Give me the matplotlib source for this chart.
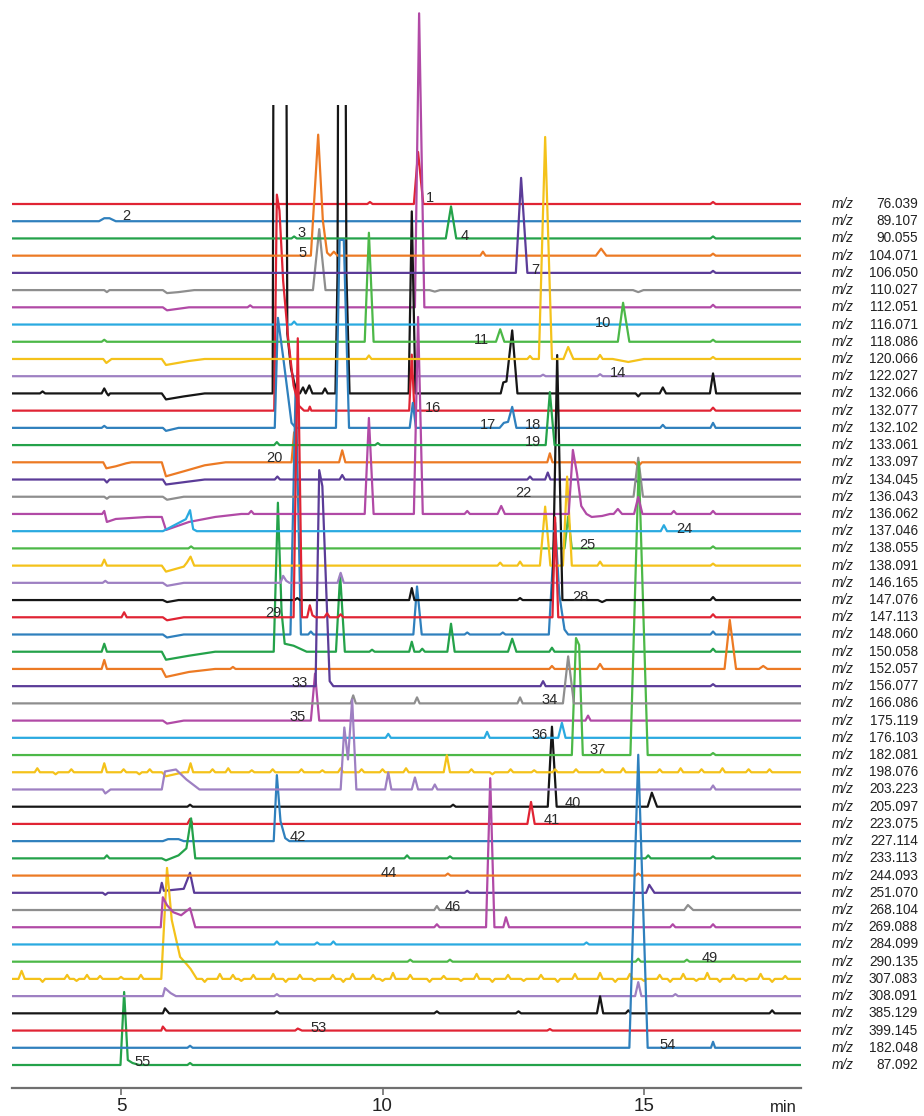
import matplotlib
matplotlib.use("Agg")
import matplotlib.pyplot as plt
from matplotlib.patches import Rectangle

plt.rcParams['font.family'] = ['Liberation Sans', 'DejaVu Sans']

# ---------------- data ----------------
mz_labels = ["76.039", "89.107", "90.055", "104.071", "106.050", "110.027", "112.051",
             "116.071", "118.086", "120.066", "122.027", "132.066", "132.077", "132.102",
             "133.061", "133.097", "134.045", "136.043", "136.062", "137.046", "138.055",
             "138.091", "146.165", "147.076", "147.113", "148.060", "150.058", "152.057",
             "156.077", "166.086", "175.119", "176.103", "182.081", "198.076", "203.223",
             "205.097", "223.075", "227.114", "233.113", "244.093", "251.070", "268.104",
             "269.088", "284.099", "290.135", "307.083", "308.091", "385.129", "399.145",
             "182.048", "87.092"]

# peaks per trace: (rt, height) | (rt, height, halfwidth) | (rt, height, wl, wr) | [(t, h), ...]
tr00 = [(9.76, 2), (10.68, 52, 0.08, 0.1), (16.32, 2)]
tr01 = [[(4.58, 0), (4.68, 3), (4.78, 3), (4.90, 0)]]
tr02 = [(8.31, 2), (11.31, 32, 0.1, 0.1), (16.32, 2)]
tr03 = [[(8.63, 0), (8.77, 121), (8.86, 35), (8.94, 3), (9.00, 0), (9.07, 4), (9.14, 0)],
        (11.92, 4), (14.18, 7, 0.1), (16.32, 2)]
tr04 = [(12.65, 95, 0.1, 0.12), (16.32, 2)]
tr05 = [(4.73, -2), [(5.80, 0), (5.88, -3), (6.1, -2), (6.4, 0)], (8.79, 61, 0.12, 0.12),
        (11.0, -1.5, 0.1), (14.89, -2, 0.1)]
tr06 = [[(5.80, 0), (5.88, -3), (6.3, 0)], (7.47, 2), (10.70, 294, 0.08, 0.1), (16.32, 2.5)]
tr07 = [(8.31, 3), (14.18, 1.5)]
tr08 = [(4.68, 2), (9.74, 109, 0.08, 0.09), (12.25, 12.5, 0.08), (14.60, 39, 0.1, 0.12), (16.32, 2)]
tr09 = [(4.72, -4, 0.06, 0.1), [(5.78, 0), (5.86, -6), (6.3, -2), (6.6, 0)], (9.74, 3.5),
        (12.82, 3), (13.11, 222, 0.12, 0.13), (13.55, 12, 0.09, 0.1), (14.16, 4),
        [(14.40, 0), (14.70, -3), (15.0, 0)], (16.32, 2)]
tr10 = [(13.07, 1.5), (14.16, 2)]
tr11 = [(3.5, 2), (4.68, 5), (4.76, -2, 0.03), [(5.78, 0), (5.86, -6), (6.2, -3), (6.6, 0)],
        [(7.90, 0), (7.93, 700), (8.14, 700), (8.18, 60), (8.25, 25), (8.36, 0)],
        [(8.42, 0), (8.48, 6), (8.53, 0), (8.60, 8), (8.66, 0)], (8.90, 5),
        [(9.10, 0), (9.14, 120), (9.17, 700), (9.27, 700), (9.31, 120), (9.37, 0)],
        (10.56, 182, 0.06, 0.07), [(12.26, 0), (12.31, 11), (12.37, 12), (12.48, 63), (12.58, 0)],
        (14.89, -3), (15.36, 6, 0.06), (16.32, 20, 0.06)]
tr12 = [[(7.93, 0), (7.98, 216), (8.03, 200), (8.10, 130), (8.20, 70), (8.30, 25), (8.40, 5), (8.50, 0)],
        (8.61, 4, 0.03), (10.56, 56, 0.05), (16.32, 3)]
tr13 = [(4.68, 2), [(5.80, 0), (5.86, -3), (6.1, 0)],
        [(7.94, 0), (8.00, 110), (8.10, 71), (8.18, 38), (8.26, 5), (8.34, 0)],
        [(9.11, 0), (9.18, 188), (9.26, 188), (9.36, 0)], (10.58, 25, 0.06),
        [(12.24, 0), (12.32, 5), (12.40, 6), (12.48, 21), (12.56, 0)], (15.36, 3), (16.32, 5)]
tr14 = [(7.98, 3), (9.91, 2), (13.20, 53, 0.08, 0.09)]
tr15 = [[(4.66, 0), (4.72, -6), (4.9, -4), (5.1, -1), (5.2, 0)],
        [(5.78, 0), (5.86, -14), (6.2, -9), (6.6, -3), (7.0, 0)],
        (8.31, 30, 0.05), (9.23, 12, 0.06), (13.20, 9), (14.89, -4, 0.07)]
tr16 = [(4.73, -3), [(5.80, 0), (5.86, -5), (6.3, -2), (6.6, 0)], (7.99, 3), (9.23, 4.5),
        (12.82, 3), (13.16, 7), (14.89, -3, 0.06)]
tr17 = [(4.73, -2), [(5.80, 0), (5.88, -3), (6.2, 0)], (14.89, 39, 0.09)]
tr18 = [[(4.64, 0), (4.68, 3), (4.73, -8), (4.9, -5), (5.2, -4), (5.5, -3), (5.78, -3), (5.86, -16),
         (6.3, -8), (6.8, -3), (7.3, 0)], (7.49, 3), (9.74, 96, 0.08, 0.09), (10.68, 197, 0.08, 0.09),
        (11.62, 3), (12.27, 8, 0.07),
        [(13.56, 0), (13.64, 64), (13.72, 40), (13.80, 8), (13.90, 0), (14.00, -3), (14.20, -2), (14.35, 0)],
        (14.50, 5, 0.08), (14.89, 17, 0.08), (15.57, 3), (16.32, 3)]
tr19 = [[(5.80, 0), (6.24, 12), (6.32, 21), (6.38, 2), (6.45, 0)], (15.38, 6, 0.06)]
tr20 = [(6.34, 2), (13.55, 32, 0.07), (16.32, 2)]
tr21 = [(4.68, 6), [(5.78, 0), (5.86, -6), (6.20, -1), (6.26, 3), (6.33, 9), (6.40, 0)], (12.25, 3),
        (12.63, 4), (13.11, 59, 0.1, 0.1), (13.53, 89, 0.08, 0.09), (14.16, 4), (16.32, 2)]
tr22 = [(4.70, 2), [(5.80, 0), (5.88, -3), (6.2, 0)], [(8.05, 0), (8.10, 7), (8.16, 2), (8.22, 0)],
        (9.20, 10, 0.06)]
tr23 = [[(5.80, 0), (5.88, -2), (6.1, 0)], (8.37, 2), (10.56, 12), (12.63, 2), (13.34, 245, 0.09, 0.1),
        (14.2, -2, 0.08), (16.32, 3)]
tr24 = [(5.06, 5), [(5.80, 0), (5.88, -3), (6.2, 0)], (8.38, 279, 0.08, 0.08),
        [(8.56, 0), (8.61, 12), (8.66, 2), (8.72, 0)], (8.94, 4), (9.20, 3), (13.30, 100, 0.05, 0.06),
        (16.32, 3)]
tr25 = [[(5.80, 0), (5.88, -3), (6.2, 0)], (8.34, 250, 0.1, 0.1), (8.63, 3), (10.66, 48, 0.07, 0.09),
        (11.62, 2), (12.30, 2), [(13.18, 0), (13.30, 112), (13.38, 40), (13.48, 5), (13.55, 0)],
        (16.32, 3)]
tr26 = [(4.68, 8), [(5.78, 0), (5.86, -8), (6.3, -4), (6.8, 0)],
        [(7.92, 0), (8.00, 149), (8.07, 40), (8.13, 8), (8.30, 6), (8.55, 0)],
        (9.19, 77, 0.08, 0.09), (9.80, 2), (10.56, 10), (10.76, 3), (11.31, 28, 0.07),
        (12.48, 13, 0.08), (13.24, 4), (16.32, 3)]
tr27 = [(4.68, 9), [(5.78, 0), (5.86, -8), (6.3, -3), (6.8, 0)], (7.14, 2), (13.24, 3),
        (14.16, 5, 0.06), (16.64, 49, 0.1, 0.12), (17.28, 3, 0.08)]
tr28 = [[(8.72, 0), (8.79, 216), (8.85, 200), (8.99, 5), (9.06, 0)], (13.07, 5), (16.32, 2)]
tr29 = [(9.44, 8), (10.66, 6), (12.63, 6), (13.55, 47, 0.1, 0.11)]
tr30 = [[(5.80, 0), (5.88, -3), (6.2, 0)], (8.71, 47, 0.08), (13.93, 5)]
tr31 = [(10.11, 4), (12.00, 6), (13.43, 15, 0.07)]
tr32 = [[(13.62, 0), (13.70, 117), (13.76, 110), (13.83, 0)], (14.90, 293, 0.16, 0.17), (16.32, 2)]
tr33 = [(3.40, 4), (3.75, -2), (4.05, 3), (4.68, 9), (5.05, 3), (5.35, -2), (5.55, 3),
        [(5.78, 0), (5.86, -4), (6.2, 0)], (6.33, 9), (6.75, 3), (7.05, 4), (7.5, 2), (7.9, 3),
        (8.45, 3), (8.85, 2), (9.2, 4), (9.6, 3), (10.0, 3), (10.45, 4), (11.23, 17, 0.06),
        (11.7, 3), (12.1, -2), (12.45, 3), (12.9, 2), (13.3, 3), (13.7, 3), (14.2, 3), (14.6, 4),
        (15.3, 3), (15.7, 4), (16.1, 3), (16.5, 4), (17.0, 3), (17.4, 3)]
tr34 = [(4.70, -4, 0.05, 0.1), [(5.78, 0), (5.84, 18), (6.05, 20), (6.25, 10), (6.5, 0)],
        [(9.20, 0), (9.27, 62), (9.34, 30), (9.42, 90), (9.50, 0)], (10.11, 17, 0.06),
        (10.62, 12, 0.06), (11.00, 5), (16.32, 4)]
tr35 = [(6.32, 2), (11.35, 2), (13.24, 80, 0.08, 0.09), (15.15, 14, 0.08, 0.1)]
tr36 = [(6.32, 5), (12.84, 22, 0.07), (14.89, 2)]
tr37 = [[(5.80, 0), (5.9, 2), (6.1, 2), (6.2, 0)], [(7.92, 0), (7.98, 66), (8.05, 20), (8.14, 3), (8.22, 0)]]
tr38 = [(4.73, 3), [(5.78, 0), (5.86, -2), (6.1, 3), (6.25, 10), (6.34, 40), (6.42, 0)],
        (10.47, 3), (11.29, 2), (15.08, 3), (16.32, 2)]
tr39 = [(11.25, 2), (14.89, 2)]
tr40 = [(4.70, -2), [(5.74, 0), (5.78, 10), (5.82, 2), (6.20, 4), (6.32, 20), (6.40, 0)],
        (11.62, 2), (15.10, 8, 0.06, 0.1)]
tr41 = [(11.04, 4), (15.84, 5, 0.07, 0.1)]
tr42 = [[(5.76, 0), (5.80, 30), (5.88, 22), (6.00, 15), (6.15, 12), (6.32, 19), (6.42, 0)],
        (11.04, 3), (12.06, 149, 0.08), (12.36, 10, 0.05, 0.06), (15.55, 3), (16.32, 3)]
tr43 = [(7.98, 3), (8.75, 2), (9.06, 3), (13.9, 2)]
tr44 = [(10.53, 2), (11.29, 2), (14.89, 3), (15.82, 2)]
tr45 = [(3.10, 8, 0.06), (3.5, -3), (3.97, 4), (4.15, -2), (4.35, 4), (4.60, 3), (5.0, 2), (5.38, 4),
        [(5.77, 0), (5.88, 111), (5.97, 59), (6.13, 22), (6.25, 15), (6.33, 10), (6.45, 0)],
        (6.6, -3), (6.89, 5), (7.14, 4), (7.3, -2), (7.53, 4), (7.91, 5), (8.15, -3), (8.42, 4),
        (8.7, -2), (9.05, 4), (9.25, -3), (9.43, 5), (9.82, 4), (10.0, -2), (10.20, 6), (10.53, 4),
        (10.9, -3), (11.17, 3), (11.5, -2), (11.80, 5), (12.1, -3), (12.40, 4), (12.7, -2),
        (13.03, 4), (13.35, -3), (13.68, 5), (14.16, 6), (14.45, -3), (14.73, 5), (15.0, -2),
        (15.30, 4), (15.5, -3), (15.75, 5), (16.0, -2), (16.21, 6), (16.45, -3), (16.71, 4),
        (16.95, -2), (17.23, 5), (17.45, -3), (17.7, 3)]
tr46 = [[(5.80, 0), (5.84, 8), (5.95, 3), (6.05, 0)], (7.98, 2), (14.89, 14, 0.06), (15.6, 2)]
tr47 = [[(5.80, 0), (5.84, 5), (5.92, 0)], (7.98, 2), (11.04, 2), (12.6, 2), (14.16, 17, 0.06),
        (14.70, 3), (17.45, 3)]
tr48 = [[(5.77, 0), (5.80, 4), (5.86, 0)], (8.38, 2, 0.05, 0.08), (13.2, 1.5)]
tr49 = [(6.32, 2), (14.89, 293, 0.17, 0.18), (16.32, 6, 0.04)]
tr50 = [[(4.99, 0), (5.06, 73), (5.13, 5), (5.22, 2), (5.35, 0)], (6.32, 2)]

traces = [tr00, tr01, tr02, tr03, tr04, tr05, tr06, tr07, tr08, tr09, tr10, tr11, tr12, tr13,
          tr14, tr15, tr16, tr17, tr18, tr19, tr20, tr21, tr22, tr23, tr24, tr25, tr26, tr27,
          tr28, tr29, tr30, tr31, tr32, tr33, tr34, tr35, tr36, tr37, tr38, tr39, tr40, tr41,
          tr42, tr43, tr44, tr45, tr46, tr47, tr48, tr49, tr50]

peak_numbers = ["1", "2", "3", "4", "5", "7", "10", "11", "14", "16", "17", "18", "19", "20",
                "22", "24", "25", "28", "29", "33", "34", "35", "36", "37", "40", "41", "42",
                "44", "46", "49", "53", "54", "55"]
peak_number_rt = [10.91, 5.11, 8.46, 11.58, 8.48, 12.92, 14.22, 11.90, 14.50, 10.97, 12.02, 12.88,
                  12.88, 7.94, 12.69, 15.78, 13.91, 13.78, 7.91, 8.42, 13.20, 8.38, 13.01, 14.12,
                  13.64, 13.24, 8.38, 10.11, 11.35, 16.26, 8.77, 15.46, 5.42]

x_ticks = [5, 10, 15]

# ---------------- style / layout ----------------
palette = ['#e02434', '#2f80bd', '#24a24a', '#ec7a24', '#5b3c98', '#8e8e8e',
           '#b14aa6', '#2aaae0', '#4cb848', '#f4c21a', '#9e80c2', '#161616']
W, H = 924, 1116
AX_L, AX_R, AX_BOT = 12, 801, 1088
PX_PER_MIN = 52.3
T0 = 5 - (121 - AX_L) / PX_PER_MIN
T1 = 15 + (AX_R - 644) / PX_PER_MIN
Y_FIRST, Y_STEP = 204.0, 17.22
label_y_px = [198, 216, 233, 236, 253, 270, 323, 340, 373, 408, 425, 425, 442, 458, 493, 529,
              545, 597, 613, 683, 700, 717, 735, 750, 803, 820, 837, 873, 907, 958, 1028, 1045, 1062]

fig = plt.figure(figsize=(W / 100, H / 100), dpi=100)
fig.patch.set_facecolor('white')
ax = fig.add_axes([AX_L / W, 1 - AX_BOT / H, (AX_R - AX_L) / W, AX_BOT / H])
ax.set_xlim(T0, T1)
ax.set_ylim(-AX_BOT, 0)


def build(items):
    segs = []
    for it in items:
        if isinstance(it, list):
            segs.append(list(it))
        else:
            if len(it) == 2:
                t, h = it
                wl = wr = 0.05
            elif len(it) == 3:
                t, h, w = it
                wl = wr = w
            else:
                t, h, wl, wr = it
            segs.append([(t - wl, 0), (t, h), (t + wr, 0)])
    segs.sort(key=lambda s: s[0][0])
    pts = [(T0, 0)]
    for s in segs:
        pts.extend(s)
    pts.append((T1, 0))
    return [p[0] for p in pts], [p[1] for p in pts]


for i, items in enumerate(traces):
    base = -(Y_FIRST + Y_STEP * i)
    xs, ys = build(items)
    ys = [base + v for v in ys]
    col = palette[i % 12]
    line, = ax.plot(xs, ys, color=col, lw=1.6, solid_joinstyle='round', zorder=2 + (i % 5) * 0.01)
    if i == 11:
        clip = Rectangle((T0, -AX_BOT), T1 - T0, AX_BOT - 105, transform=ax.transData)
        line.set_clip_path(clip)
    yfig = 1 - (Y_FIRST + Y_STEP * i) / H
    fig.text(832 / W, yfig, 'm/z', style='italic', fontsize=9.8, va='center', ha='left', color='#222222')
    fig.text(918 / W, yfig, mz_labels[i], fontsize=9.8, va='center', ha='right', color='#222222')

for lab, rt, ypx in zip(peak_numbers, peak_number_rt, label_y_px):
    ax.text(rt, -ypx, lab, fontsize=10.5, ha='center', va='center', color='#2a2a2a', zorder=5)

for s in ['top', 'right', 'left']:
    ax.spines[s].set_visible(False)
ax.spines['bottom'].set_color('#707070')
ax.spines['bottom'].set_linewidth(1.6)
ax.set_yticks([])
ax.set_xticks(x_ticks)
ax.set_xticklabels([str(v) for v in x_ticks])
ax.tick_params(axis='x', direction='out', length=5, width=1.2, color='#707070',
               labelsize=13.5, pad=2, labelcolor='#222222')
ax.patch.set_alpha(0)
fig.text(783 / W, 1 - 1107 / H, 'min', fontsize=12, ha='center', va='center', color='#222222')

fig.savefig('out.png', dpi=100, facecolor='white')
